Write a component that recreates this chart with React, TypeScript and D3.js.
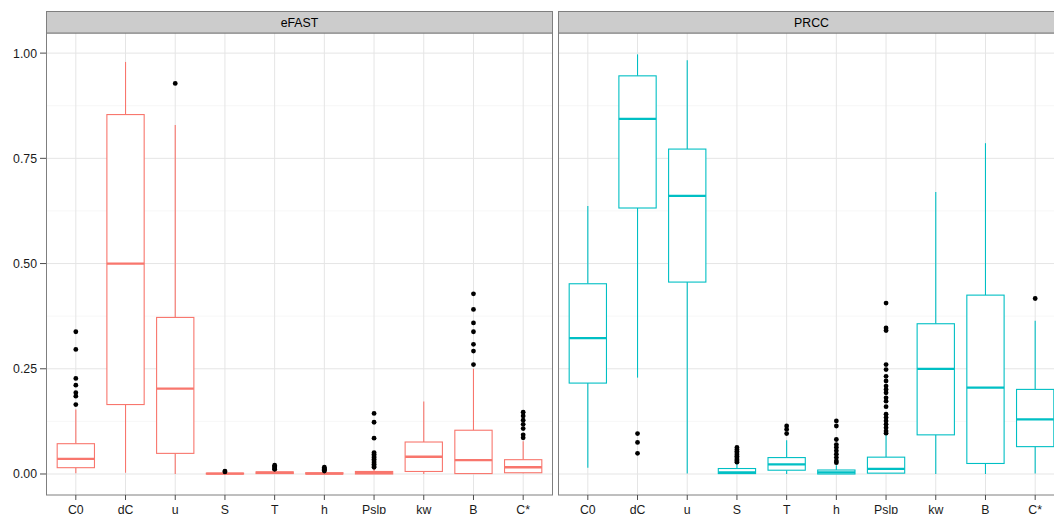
import React, { useEffect, useRef } from "react";
import * as d3 from "d3";

// parameter names on the x axis
const categories = ["C0", "dC", "u", "S", "T", "h", "Pslp", "kw", "B", "C*"];
const panels = ["eFAST", "PRCC"];
const yTicks = [0, 0.25, 0.5, 0.75, 1.0];
const yMinorTicks = [0.125, 0.375, 0.625, 0.875];

// eFAST box stats
const efastLower = [0.002, 0.003, 0.0, 0.0, 0.0, 0.0, 0.0, 0.0, 0.0, 0.002];
const efastQ1 = [0.015, 0.165, 0.049, 0.0, 0.001, 0.0, 0.0, 0.006, 0.001, 0.003];
const efastMedian = [0.036, 0.5, 0.203, 0.001, 0.003, 0.001, 0.003, 0.041, 0.033, 0.016];
const efastQ3 = [0.072, 0.854, 0.372, 0.002, 0.005, 0.003, 0.006, 0.076, 0.104, 0.034];
const efastUpper = [0.153, 0.979, 0.829, 0.004, 0.009, 0.006, 0.013, 0.172, 0.25, 0.078];
const efastOutliers = [
  [0.338, 0.296, 0.227, 0.211, 0.193, 0.185, 0.165],
  [],
  [0.928],
  [0.007, 0.005],
  [0.021, 0.018, 0.015, 0.012, 0.011],
  [0.016, 0.013, 0.011, 0.009, 0.007],
  [0.144, 0.123, 0.085, 0.051, 0.047, 0.043, 0.039, 0.035, 0.031, 0.027, 0.023, 0.019, 0.016],
  [],
  [0.428, 0.391, 0.359, 0.338, 0.308, 0.292, 0.26],
  [0.147, 0.138, 0.128, 0.118, 0.108, 0.093, 0.086],
];

// PRCC box stats
const prccLower = [0.015, 0.229, 0.001, 0.0, 0.0, 0.0, 0.002, 0.0, 0.0, 0.001];
const prccQ1 = [0.216, 0.632, 0.456, 0.001, 0.009, 0.0, 0.002, 0.093, 0.025, 0.065];
const prccMedian = [0.323, 0.844, 0.661, 0.004, 0.023, 0.004, 0.012, 0.25, 0.205, 0.13];
const prccQ3 = [0.452, 0.946, 0.772, 0.013, 0.039, 0.0095, 0.04, 0.357, 0.425, 0.201];
const prccUpper = [0.637, 0.997, 0.983, 0.025, 0.08, 0.021, 0.094, 0.67, 0.786, 0.364];
const prccOutliers = [
  [],
  [0.096, 0.075, 0.049],
  [],
  [0.063, 0.058, 0.054, 0.05, 0.046, 0.042, 0.038, 0.034, 0.031, 0.028],
  [0.114, 0.106, 0.096],
  [0.126, 0.114, 0.082, 0.07, 0.063, 0.055, 0.047, 0.039, 0.031, 0.027],
  [0.406, 0.347, 0.341, 0.26, 0.248, 0.232, 0.221, 0.209, 0.201, 0.193, 0.181, 0.173, 0.16, 0.142, 0.134, 0.126, 0.118, 0.11, 0.102, 0.097],
  [],
  [],
  [0.417],
];

const panelColors = ["#F8766D", "#00BFC4"];

export default function App() {
  const ref = useRef<SVGSVGElement>(null);

  useEffect(() => {
    const svg = d3.select(ref.current);
    svg.selectAll("*").remove();

    const width = 1054,
      height = 514;
    const panelW = 507,
      panelTop = 33,
      panelBottom = 495,
      stripTop = 11;
    const panelX = [46, 558];
    const font = "'Liberation Sans', Arial, sans-serif";

    const stats = [
      { lower: efastLower, q1: efastQ1, med: efastMedian, q3: efastQ3, upper: efastUpper, out: efastOutliers },
      { lower: prccLower, q1: prccQ1, med: prccMedian, q3: prccQ3, upper: prccUpper, out: prccOutliers },
    ];

    const y = d3.scaleLinear().domain([-0.0499, 1.0478]).range([panelBottom, panelTop]);

    svg.attr("width", width).attr("height", height);

    panels.forEach((name, p) => {
      const x0 = panelX[p];
      const x = d3.scalePoint<string>().domain(categories).range([x0, x0 + panelW]).padding(0.6);
      const step = x.step();
      const bw = step * 0.75;
      const color = panelColors[p];
      const s = stats[p];

      const g = svg.append("g");

      // panel background
      g.append("rect")
        .attr("x", x0).attr("y", panelTop)
        .attr("width", panelW).attr("height", panelBottom - panelTop)
        .attr("fill", "#fff");

      // grid
      g.selectAll(".minor").data(yMinorTicks).enter().append("line")
        .attr("x1", x0).attr("x2", x0 + panelW)
        .attr("y1", (d) => y(d)).attr("y2", (d) => y(d))
        .attr("stroke", "#F7F7F7").attr("stroke-width", 1);
      g.selectAll(".major").data(yTicks).enter().append("line")
        .attr("x1", x0).attr("x2", x0 + panelW)
        .attr("y1", (d) => y(d)).attr("y2", (d) => y(d))
        .attr("stroke", "#E5E5E5").attr("stroke-width", 1);
      g.selectAll(".vmajor").data(categories).enter().append("line")
        .attr("x1", (d) => x(d)!).attr("x2", (d) => x(d)!)
        .attr("y1", panelTop).attr("y2", panelBottom)
        .attr("stroke", "#E5E5E5").attr("stroke-width", 1);

      // boxes
      categories.forEach((c, i) => {
        const cx = x(c)!;
        const bg = g.append("g");
        bg.append("line")
          .attr("x1", cx).attr("x2", cx)
          .attr("y1", y(s.q3[i])).attr("y2", y(s.upper[i]))
          .attr("stroke", color).attr("stroke-width", 1.1);
        bg.append("line")
          .attr("x1", cx).attr("x2", cx)
          .attr("y1", y(s.q1[i])).attr("y2", y(s.lower[i]))
          .attr("stroke", color).attr("stroke-width", 1.1);
        bg.append("rect")
          .attr("x", cx - bw / 2).attr("y", y(s.q3[i]))
          .attr("width", bw).attr("height", Math.max(0.5, y(s.q1[i]) - y(s.q3[i])))
          .attr("fill", "#fff").attr("stroke", color).attr("stroke-width", 1.1);
        bg.append("line")
          .attr("x1", cx - bw / 2).attr("x2", cx + bw / 2)
          .attr("y1", y(s.med[i])).attr("y2", y(s.med[i]))
          .attr("stroke", color).attr("stroke-width", 2.3);
        bg.selectAll("circle").data(s.out[i]).enter().append("circle")
          .attr("cx", cx).attr("cy", (d) => y(d)).attr("r", 2.4)
          .attr("fill", "#000");
      });

      // panel border
      g.append("rect")
        .attr("x", x0 + 0.5).attr("y", panelTop)
        .attr("width", panelW - 1).attr("height", panelBottom - panelTop)
        .attr("fill", "none").attr("stroke", "#7F7F7F").attr("stroke-width", 1);

      // strip
      g.append("rect")
        .attr("x", x0 + 0.5).attr("y", stripTop + 0.5)
        .attr("width", panelW - 1).attr("height", panelTop - stripTop - 0.5)
        .attr("fill", "#CCCCCC").attr("stroke", "#7F7F7F").attr("stroke-width", 1);
      g.append("text")
        .attr("x", x0 + panelW / 2).attr("y", 27)
        .attr("text-anchor", "middle")
        .attr("font-family", font).attr("font-size", 12.3)
        .attr("fill", "#000")
        .text(name);

      // x axis
      g.selectAll(".xtick").data(categories).enter().append("line")
        .attr("x1", (d) => x(d)!).attr("x2", (d) => x(d)!)
        .attr("y1", panelBottom).attr("y2", panelBottom + 5)
        .attr("stroke", "#4D4D4D").attr("stroke-width", 1);
      g.selectAll(".xlab").data(categories).enter().append("text")
        .attr("x", (d) => x(d)!).attr("y", 514)
        .attr("text-anchor", "middle")
        .attr("font-family", font).attr("font-size", 12.3)
        .attr("fill", "#1A1A1A")
        .text((d) => d);

      // y axis on the first panel only
      if (p === 0) {
        g.selectAll(".ytick").data(yTicks).enter().append("line")
          .attr("x1", x0 - 6).attr("x2", x0)
          .attr("y1", (d) => y(d)).attr("y2", (d) => y(d))
          .attr("stroke", "#4D4D4D").attr("stroke-width", 1);
        g.selectAll(".ylab").data(yTicks).enter().append("text")
          .attr("x", x0 - 9).attr("y", (d) => y(d))
          .attr("dy", "0.36em")
          .attr("text-anchor", "end")
          .attr("font-family", font).attr("font-size", 12.3)
          .attr("fill", "#1A1A1A")
          .text((d) => d3.format(".2f")(d));
      }
    });
  }, []);

  return (
    <svg
      ref={ref}
      style={{ position: "absolute", left: 0, top: 0, display: "block", overflow: "hidden" }}
    />
  );
}
